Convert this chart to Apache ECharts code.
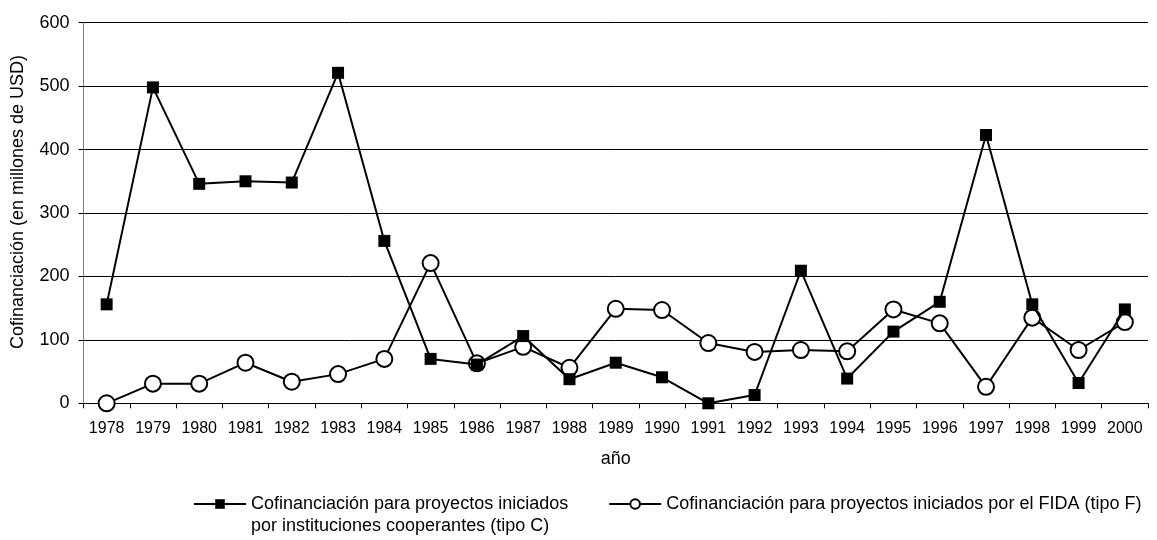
<!DOCTYPE html>
<html>
<head>
<meta charset="utf-8">
<script src="https://cdn.jsdelivr.net/npm/echarts@6/dist/echarts.min.js"></script>
<style>
  html, body { margin: 0; padding: 0; background: #fff; }
  #chart { width: 1157px; height: 540px; }
</style>
</head>
<body>
<div id="chart"></div>
<script>
const years = ['1978', '1979', '1980', '1981', '1982', '1983', '1984', '1985', '1986', '1987', '1988', '1989',
    '1990', '1991', '1992', '1993', '1994', '1995', '1996', '1997', '1998', '1999', '2000'];
// tipo C: proyectos iniciados por instituciones cooperantes
const tipoC = [156, 498, 346, 350, 348, 521, 256, 70, 61, 106, 38, 64, 41, 0, 13, 209, 39, 113, 160, 423, 156, 32, 148];
// tipo F: proyectos iniciados por el FIDA
const tipoF = [0, 31, 31, 64, 34, 46, 70, 221, 63, 89, 56, 149, 147, 95, 81, 84, 82, 148, 126, 26, 135, 84, 128];
const yTicks = [0, 100, 200, 300, 400, 500, 600];

const nameC = 'Cofinanciación para proyectos iniciados\npor instituciones cooperantes (tipo C)';
const nameF = 'Cofinanciación para proyectos iniciados por el FIDA (tipo F)';
const font = '"Liberation Sans", Arial, sans-serif';

const chart = echarts.init(document.getElementById('chart'), null, { renderer: 'canvas' });

chart.setOption({
    animation: false,
    backgroundColor: '#fff',
    textStyle: { fontFamily: font, color: '#000' },
    grid: { left: 83.5, right: 9, top: 22.7, bottom: 136.7, containLabel: false, outerBoundsMode: 'none' },
    legend: {
        left: 193,
        top: 471,
        padding: 0,
        itemWidth: 52,
        itemHeight: 12,
        itemGap: 40,
        // leading blank line keeps the symbol level with the first text line
        formatter: (name) => (name === nameC ? '\n' + name : name),
        textStyle: { fontFamily: font, fontSize: 18, color: '#000', lineHeight: 22 },
        data: [nameC, nameF],
    },
    xAxis: {
        type: 'category',
        data: years,
        boundaryGap: true,
        name: 'año',
        nameLocation: 'middle',
        nameGap: 47,
        nameTextStyle: { fontSize: 18, color: '#000' },
        axisLine: { lineStyle: { color: '#000', width: 1 } },
        axisTick: { show: true, length: 5, lineStyle: { color: '#000' } },
        axisLabel: { fontSize: 16, color: '#000', margin: 17, interval: 0 },
        splitLine: { show: false },
    },
    yAxis: {
        type: 'value',
        min: yTicks[0],
        max: yTicks[yTicks.length - 1],
        interval: 100,
        name: 'Cofinanciación (en millones de USD)',
        nameLocation: 'middle',
        nameGap: 56,
        nameTextStyle: { fontSize: 18, color: '#000', padding: [0, 0, 0, 22] },
        axisLine: { show: true, lineStyle: { color: '#808080', width: 1 } },
        axisTick: { show: true, length: 5, lineStyle: { color: '#000' } },
        axisLabel: { fontSize: 18, color: '#000', margin: 14 },
        splitLine: { show: true, lineStyle: { color: '#000', width: 1 } },
    },
    series: [
        {
            name: nameC,
            type: 'line',
            data: tipoC,
            symbol: 'rect',
            symbolSize: 12,
            itemStyle: { color: '#000' },
            lineStyle: { color: '#000', width: 2 },
            z: 3,
        },
        {
            name: nameF,
            type: 'line',
            data: tipoF,
            symbol: 'emptyCircle',
            symbolSize: 16,
            itemStyle: { color: '#000', borderColor: '#000', borderWidth: 2 },
            lineStyle: { color: '#000', width: 2 },
            z: 2,
        },
    ],
});
</script>
</body>
</html>
